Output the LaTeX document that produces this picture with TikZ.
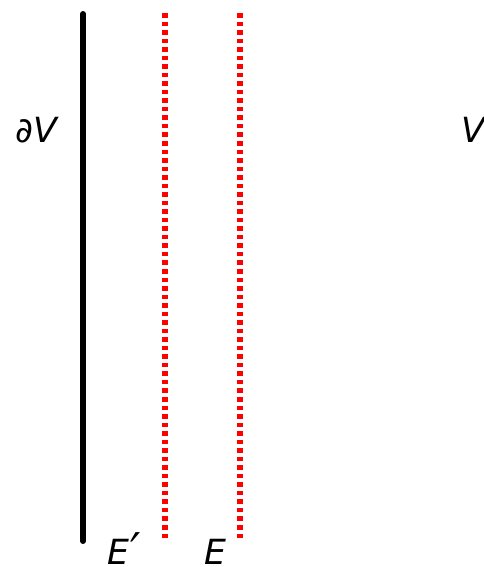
\documentclass[tikz,border=0pt]{standalone}
\usepackage{fontspec}
\setmainfont{DejaVu Sans}
\usetikzlibrary{positioning}

\begin{document}
\begin{tikzpicture}[x=0.75pt, y=-0.75pt,
    lbl/.style={font=\fontsize{26}{30}\selectfont\itshape, inner sep=0pt, anchor=base west},
    wall/.style={line width=4.5pt, black, line cap=round},
    edgeline/.style={line width=3.8pt, red, dash pattern=on 3.4pt off 3pt}]
    \useasboundingbox (0,0) rectangle (484,567);

    % boundary of V
    \coordinate (dtop) at (83,14);
    \coordinate (dbot) at (83,541);
    \draw[wall] (dtop) -- (dbot);

    % the two sets E' and E
    \coordinate (eptop) at (165,13);
    \coordinate (epbot) at (165,540);
    \coordinate (etop) at (240,13);
    \coordinate (ebot) at (240,541);
    \draw[edgeline] (eptop) -- (epbot);
    \draw[edgeline] (etop) -- (ebot);

    % labels
    \node[lbl] (dV) at (15,142) {∂V};
    \node[lbl] (V) at (461,142) {V};
    \node[lbl] (Ep) at (107,564) {E\kern1pt\raisebox{-4.5pt}{\scalebox{1.3}[1.5]{′}}};
    \node[lbl] (E) at (204,564) {E};
\end{tikzpicture}
\end{document}
